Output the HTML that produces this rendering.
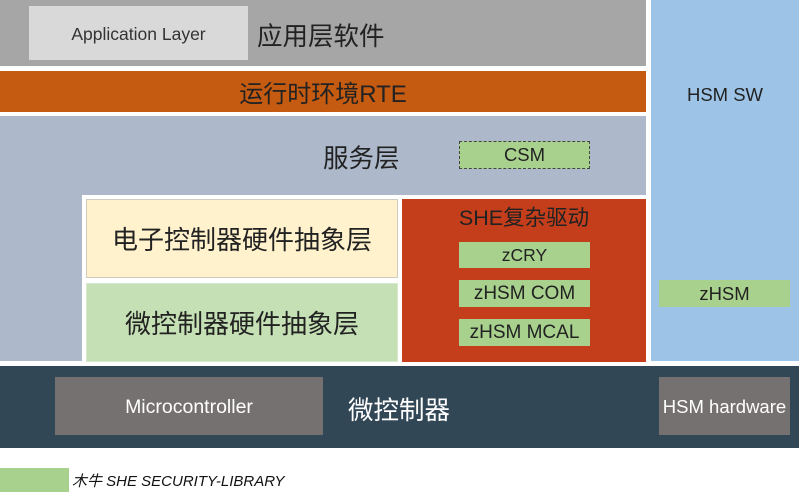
<!DOCTYPE html>
<html><head><meta charset="utf-8"><style>
*{margin:0;padding:0;box-sizing:border-box}
body{width:800px;height:503px;background:#fff;position:relative;overflow:hidden;font-family:"Liberation Sans","Noto Sans CJK SC",sans-serif;color:#222}
.b{position:absolute}
.c{position:absolute;display:flex;align-items:center;justify-content:center;white-space:nowrap}
</style></head><body>
<div class="b" style="left:0;top:0;width:646px;height:66px;background:#a6a6a6"></div>
<div class="c" style="left:29px;top:6px;width:219px;height:54px;background:#d9d9d9;font-size:17.5px;color:#333;padding-top:3px">Application Layer</div>
<div class="c" style="left:257px;top:14px;width:140px;height:40px;font-size:25.5px;justify-content:flex-start">应用层软件</div>

<div class="b" style="left:0;top:71px;width:646px;height:41px;background:#c55a11"></div>
<div class="c" style="left:0;top:71px;width:646px;height:41px;font-size:24px">运行时环境RTE</div>

<div class="b" style="left:0;top:116px;width:646px;height:79px;background:#adb9ca"></div>
<div class="b" style="left:0;top:195px;width:82px;height:166px;background:#adb9ca"></div>
<div class="c" style="left:323px;top:139px;width:90px;height:34px;font-size:25.5px;justify-content:flex-start">服务层</div>
<div class="c" style="left:459px;top:141px;width:131px;height:28px;background:#a9d18e;border:1px dashed #444;font-size:18.5px">CSM</div>

<div class="b" style="left:651px;top:0;width:148px;height:361px;background:#9dc3e6"></div>
<div class="c" style="left:651px;top:80px;width:148px;height:30px;font-size:18.5px">HSM SW</div>
<div class="c" style="left:659px;top:280px;width:131px;height:27px;background:#a9d18e;font-size:18.5px">zHSM</div>

<div class="c" style="left:86px;top:199px;width:312px;height:79px;background:#fff2cc;border:1px solid #d0cbc0;font-size:26px">电子控制器硬件抽象层</div>
<div class="c" style="left:86px;top:283px;width:312px;height:79px;background:#c5e0b4;border:1px solid #d8e8cc;font-size:26px">微控制器硬件抽象层</div>

<div class="b" style="left:402px;top:199px;width:244px;height:163px;background:#c43e1c"></div>
<div class="c" style="left:402px;top:202px;width:244px;height:28px;font-size:21.5px">SHE复杂驱动</div>
<div class="c" style="left:459px;top:242px;width:131px;height:26px;background:#a9d18e;font-size:17.5px">zCRY</div>
<div class="c" style="left:459px;top:280px;width:131px;height:27px;background:#a9d18e;font-size:19px">zHSM COM</div>
<div class="c" style="left:459px;top:319px;width:131px;height:27px;background:#a9d18e;font-size:19px">zHSM MCAL</div>

<div class="b" style="left:0;top:366px;width:799px;height:82px;background:#324756"></div>
<div class="c" style="left:55px;top:377px;width:268px;height:58px;background:#767171;color:#fff;font-size:19.5px;padding-top:2px">Microcontroller</div>
<div class="c" style="left:348px;top:391px;width:110px;height:34px;color:#fff;font-size:25.5px;justify-content:flex-start">微控制器</div>
<div class="c" style="left:659px;top:377px;width:131px;height:58px;background:#767171;color:#fff;font-size:18.5px;padding-top:2px">HSM hardware</div>

<div class="b" style="left:0;top:468px;width:69px;height:24px;background:#a9d18e"></div>
<div class="c" style="left:72px;top:468px;width:240px;height:24px;font-size:15px;font-style:italic;justify-content:flex-start;color:#111">木牛 SHE SECURITY-LIBRARY</div>
</body></html>
